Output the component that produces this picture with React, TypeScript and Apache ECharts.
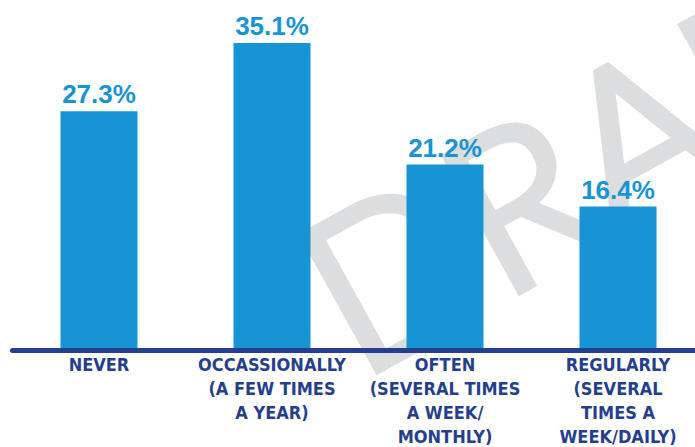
import React, { useEffect, useRef } from "react";
import * as echarts from "echarts";

const categories = [
  "NEVER",
  "OCCASSIONALLY\n(A FEW TIMES\nA YEAR)",
  "OFTEN\n(SEVERAL TIMES\nA WEEK/\nMONTHLY)",
  "REGULARLY\n(SEVERAL\nTIMES A\nWEEK/DAILY)",
];
const values = [27.3, 35.1, 21.2, 16.4];
const watermarkText = "DRAFT";

const BLUE = "#1694d3";
const NAVY = "#243f8d";

export default function App() {
  const ref = useRef<HTMLDivElement>(null);
  useEffect(() => {
    if (!ref.current) return;
    const chart = echarts.init(ref.current, undefined, { renderer: "svg" });
    chart.setOption({
      animation: false,
      backgroundColor: "#ffffff",
      grid: {
        left: 12.5,
        width: 692,
        top: 0,
        bottom: 97,
        containLabel: false,
        outerBoundsMode: "none",
      },
      graphic: [
        {
          type: "text",
          z: -10,
          x: 319,
          y: 307,
          rotation: (29 * Math.PI) / 180,
          style: {
            text: watermarkText,
            fill: "#dcdddf",
            stroke: "#dcdddf",
            lineWidth: 10,
            lineJoin: "round",
            font: "300 214px Lato, 'Open Sans', sans-serif",
            textAlign: "left",
            textVerticalAlign: "middle",
          },
        },
      ],
      xAxis: {
        type: "category",
        data: categories,
        axisLine: { show: true, lineStyle: { color: NAVY, width: 5 } },
        axisTick: { show: false },
        axisLabel: {
          interval: 0,
          margin: 2,
          color: NAVY,
          fontFamily: "'DejaVu Sans Condensed', 'DejaVu Sans', sans-serif",
          fontWeight: "bold",
          fontSize: 18,
          lineHeight: 24,
          align: "center",
          verticalAlign: "top",
        },
        z: 5,
      },
      yAxis: {
        type: "value",
        min: 0,
        max: 40,
        show: false,
        splitLine: { show: false },
      },
      series: [
        {
          type: "bar",
          data: values,
          barWidth: 77,
          z: 2,
          itemStyle: { color: BLUE },
          label: {
            show: true,
            position: "top",
            distance: 4,
            formatter: (p: any) => `${p.value.toFixed(1)}%`,
            color: BLUE,
            fontFamily: "'Liberation Sans', Arial, sans-serif",
            fontWeight: "bold",
            fontSize: 26,
          },
        },
      ],
    });
    return () => chart.dispose();
  }, []);
  return (
    <div
      ref={ref}
      style={{ position: "fixed", left: 0, top: 0, width: 695, height: 447 }}
    />
  );
}
